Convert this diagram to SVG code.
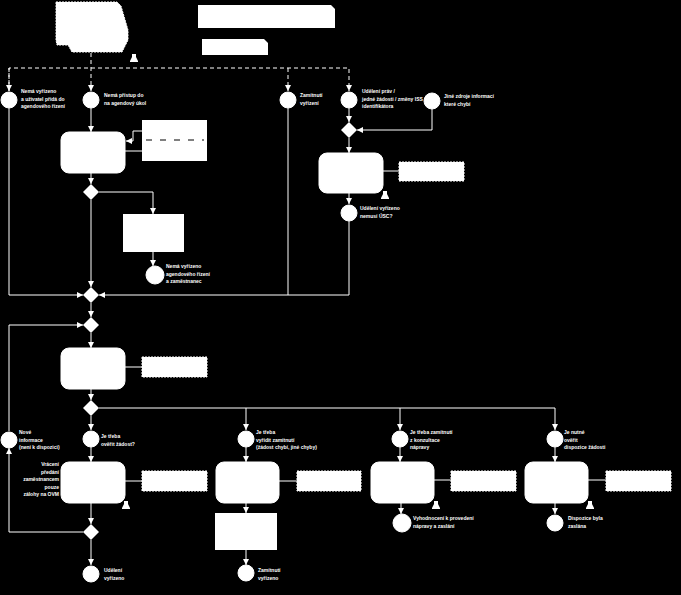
<svg xmlns="http://www.w3.org/2000/svg" width="681" height="595" viewBox="0 0 681 595">
<defs>
<style>
.bg{fill:#000}
.n{fill:#fff}
.task{fill:#fff;stroke:#fff;stroke-width:1}
.data{fill:#fff;stroke:#fff;stroke-width:1;stroke-dasharray:2 1}
.ev{fill:#fff;stroke:#fff;stroke-width:1}
.gw{fill:#fff}
.c{fill:none;stroke:#fff;stroke-width:1}
.m{fill:none;stroke:#fff;stroke-width:1;stroke-dasharray:4 3}
.t{font-family:"Liberation Sans",Arial,sans-serif;font-size:5px;font-weight:bold;fill:#fff}
.tr{font-family:"Liberation Sans",Arial,sans-serif;font-size:5px;font-weight:bold;fill:#fff;text-anchor:end}
</style>
<marker id="a" markerWidth="6" markerHeight="6" refX="6" refY="3" orient="auto" markerUnits="userSpaceOnUse">
<path d="M0,0 L6,3 L0,6 z" fill="#fff"/>
</marker>
<path id="icon" d="M-2,-4 H2 V-1 L4,3 V4 H-4 V3 L-2,-1 Z" fill="#fff"/>
</defs>
<rect class="bg" x="0" y="0" width="681" height="595"/>

<g id="connectors">
<path class="m" d="M91,53 V91" marker-end="url(#a)"/>
<path class="m" d="M9,91 V68 H349 V91" marker-end="url(#a)"/>
<path class="m" d="M9,68 V91" marker-end="url(#a)"/>
<path class="m" d="M288,68 V91" marker-end="url(#a)"/>
<path class="c" d="M9,108 V295 H83" marker-end="url(#a)"/>
<path class="c" d="M91,108 V132" marker-end="url(#a)"/>
<path class="c" d="M349,108 V122" marker-end="url(#a)"/>
<path class="c" d="M432,109 V130 H357" marker-end="url(#a)"/>
<path class="c" d="M349,138 V153" marker-end="url(#a)"/>
<path class="c" d="M91,173 V184" marker-end="url(#a)"/>
<path class="c" d="M99,192 H153 V214" marker-end="url(#a)"/>
<path class="c" d="M153,252 V266" marker-end="url(#a)"/>
<path class="c" d="M91,200 V287" marker-end="url(#a)"/>
<path class="c" d="M288,108 V295"/>
<path class="c" d="M349,193 V204" marker-end="url(#a)"/>
<path class="c" d="M349,221 V295 H99" marker-end="url(#a)"/>
<path class="c" d="M91,303 V317" marker-end="url(#a)"/>
<path class="c" d="M91,333 V348" marker-end="url(#a)"/>
<path class="c" d="M91,389 V400" marker-end="url(#a)"/>
<path class="c" d="M99,408 H555 V430" marker-end="url(#a)"/>
<path class="c" d="M246,408 V430" marker-end="url(#a)"/>
<path class="c" d="M400,408 V430" marker-end="url(#a)"/>
<path class="c" d="M91,416 V430" marker-end="url(#a)"/>
<path class="c" d="M91,447 V462" marker-end="url(#a)"/>
<path class="c" d="M246,447 V462" marker-end="url(#a)"/>
<path class="c" d="M400,447 V462" marker-end="url(#a)"/>
<path class="c" d="M555,447 V462" marker-end="url(#a)"/>
<path class="c" d="M91,503 V524" marker-end="url(#a)"/>
<path class="c" d="M83,532 H9 V448" marker-end="url(#a)"/>
<path class="c" d="M9,431 V325 H83" marker-end="url(#a)"/>
<path class="c" d="M91,540 V565" marker-end="url(#a)"/>
<path class="c" d="M246,503 V513" marker-end="url(#a)"/>
<path class="c" d="M246,550 V565" marker-end="url(#a)"/>
<path class="c" d="M401,503 V514" marker-end="url(#a)"/>
<path class="c" d="M555,503 V514" marker-end="url(#a)"/>
<path class="c" d="M125,151 H142"/>
<path class="c" d="M142,131 H133 V141 H126" marker-end="url(#a)"/>
<path class="c" d="M383,171 H399"/>
<path class="c" d="M125,367 H142"/>
<path class="c" d="M125,481 H142"/>
<path class="c" d="M279,481 H297"/>
<path class="c" d="M434,480 H451"/>
<path class="c" d="M588,480 H606"/>
</g>

<g id="pool-top">
<path class="data" d="M56,2 H117 L121,6 L128,30 V40 L122,52 H72 L68,45 H57 L56,40 Z"/>
</g>
<g id="title1"><path class="n" d="M198,5 H331 L335,9 V28 H198 Z"/></g>
<g id="title2"><path class="n" d="M202,39 H264 L268,43 V55 H202 Z"/></g>
<g id="icon-top"><use href="#icon" x="134" y="58"/></g>

<g id="ev1"><circle class="ev" cx="9" cy="100" r="8"/>
<text class="t" x="21" y="93">Nemá vyřízeno</text><text class="t" x="21" y="100.5">a uživatel přidá do</text><text class="t" x="21" y="108">agendového řízení</text></g>
<g id="ev2"><circle class="ev" cx="91" cy="100" r="8"/>
<text class="t" x="104" y="97">Nemá přístup do</text><text class="t" x="104" y="104.5">na agendový úkol</text></g>
<g id="ev3"><circle class="ev" cx="288" cy="100" r="8"/>
<text class="t" x="300" y="97">Zamítnutí</text><text class="t" x="300" y="104.5">vyřízení</text></g>
<g id="ev4"><circle class="ev" cx="349" cy="100" r="8"/>
<text class="t" x="362" y="93">Udělení práv /</text><text class="t" x="362" y="100.5">jedné žádosti / změny ISS</text><text class="t" x="362" y="108">identifikátora</text></g>
<g id="ev5"><circle class="ev" cx="432" cy="101" r="8"/>
<text class="t" x="444" y="98">Jiné zdroje informací</text><text class="t" x="444" y="105.5">které chybí</text></g>

<g id="task1"><rect class="task" x="61" y="132" width="64" height="41" rx="8"/></g>
<g id="data1"><rect class="n" x="142" y="120" width="65" height="41"/>
<path d="M146,140 H204" stroke="#000" stroke-width="1" stroke-dasharray="6 8"/></g>
<g id="gw1"><path class="gw" d="M91,184 L99,192 L91,200 L83,192 Z"/></g>
<g id="task2"><rect class="n" x="123" y="214" width="61" height="38"/></g>
<g id="ev6"><circle class="ev" cx="155" cy="275" r="9"/>
<text class="t" x="166" y="268">Nemá vyřízeno</text><text class="t" x="166" y="275.5">agendového řízení</text><text class="t" x="166" y="283">a zaměstnanec</text></g>

<g id="gw2"><path class="gw" d="M349,122 L357,130 L349,138 L341,130 Z"/></g>
<g id="task3"><rect class="task" x="319" y="153" width="64" height="40" rx="8"/></g>
<g id="data3"><rect class="data" x="399" y="162" width="65" height="19"/></g>
<g id="icon3"><use href="#icon" x="385" y="195"/></g>
<g id="ev7"><circle class="ev" cx="349" cy="213" r="8"/>
<text class="t" x="360" y="210">Udělení vyřízeno</text><text class="t" x="360" y="217.5">nemusí ÚSC?</text></g>

<g id="gw3"><path class="gw" d="M91,287 L99,295 L91,303 L83,295 Z"/></g>
<g id="gw4"><path class="gw" d="M91,317 L99,325 L91,333 L83,325 Z"/></g>
<g id="task4"><rect class="task" x="61" y="348" width="64" height="41" rx="8"/></g>
<g id="data4"><rect class="data" x="142" y="357" width="65" height="20"/></g>
<g id="gw5"><path class="gw" d="M91,400 L99,408 L91,416 L83,408 Z"/></g>

<g id="ev8"><circle class="ev" cx="9" cy="440" r="8"/>
<text class="t" x="19" y="434">Nové</text><text class="t" x="19" y="441.5">informace</text><text class="t" x="19" y="449">(není k dispozici)</text></g>
<g id="ev9"><circle class="ev" cx="91" cy="439" r="8"/>
<text class="t" x="101" y="438">Je třeba</text><text class="t" x="101" y="445.5">ověřit žádost?</text></g>
<g id="ev10"><circle class="ev" cx="246" cy="439" r="8"/>
<text class="t" x="256" y="434">Je třeba</text><text class="t" x="256" y="441.5">vyřídit zamítnutí</text><text class="t" x="256" y="449">(žádost chybí, jiné chyby)</text></g>
<g id="ev11"><circle class="ev" cx="400" cy="439" r="8"/>
<text class="t" x="410" y="434">Je třeba zamítnutí</text><text class="t" x="410" y="441.5">z konzultace</text><text class="t" x="410" y="449">nápravy</text></g>
<g id="ev12"><circle class="ev" cx="555" cy="439" r="8"/>
<text class="t" x="564" y="434">Je nutné</text><text class="t" x="564" y="441.5">ověřit</text><text class="t" x="564" y="449">dispozice žádosti</text></g>

<g id="task5"><rect class="task" x="61" y="462" width="64" height="41" rx="8"/>
<text class="tr" x="59" y="466">Vrácení</text><text class="tr" x="59" y="473.5">předání</text><text class="tr" x="59" y="481">zaměstnancem</text><text class="tr" x="59" y="488.5">pouze</text><text class="tr" x="59" y="496">zálohy na OVM</text></g>
<g id="data5"><rect class="data" x="142" y="471" width="65" height="20"/></g>
<g id="icon5"><use href="#icon" x="126" y="505"/></g>
<g id="gw6"><path class="gw" d="M91,524 L99,532 L91,540 L83,532 Z"/></g>
<g id="ev13"><circle class="ev" cx="91" cy="574" r="8"/>
<text class="t" x="104" y="572">Udělení</text><text class="t" x="104" y="579.5">vyřízeno</text></g>

<g id="task6"><rect class="task" x="216" y="462" width="63" height="41" rx="8"/></g>
<g id="data6"><rect class="data" x="297" y="471" width="64" height="20"/></g>
<g id="task7"><rect class="n" x="215" y="513" width="62" height="37"/></g>
<g id="ev14"><circle class="ev" cx="246" cy="573" r="8"/>
<text class="t" x="258" y="572">Zamítnutí</text><text class="t" x="258" y="579.5">vyřízeno</text></g>

<g id="task8"><rect class="task" x="371" y="462" width="63" height="41" rx="8"/></g>
<g id="data8"><rect class="data" x="451" y="471" width="65" height="20"/></g>
<g id="icon8"><use href="#icon" x="436" y="505"/></g>
<g id="ev15"><circle class="ev" cx="402" cy="523" r="9"/>
<text class="t" x="413" y="520">Vyhodnocení k provedení</text><text class="t" x="413" y="527.5">nápravy a zaslání</text></g>

<g id="task9"><rect class="task" x="525" y="462" width="63" height="41" rx="8"/></g>
<g id="data9"><rect class="data" x="606" y="471" width="65" height="20"/></g>
<g id="icon9"><use href="#icon" x="590" y="505"/></g>
<g id="ev16"><circle class="ev" cx="555" cy="523" r="8"/>
<text class="t" x="568" y="520">Dispozice byla</text><text class="t" x="568" y="527.5">zaslána</text></g>
</svg>
